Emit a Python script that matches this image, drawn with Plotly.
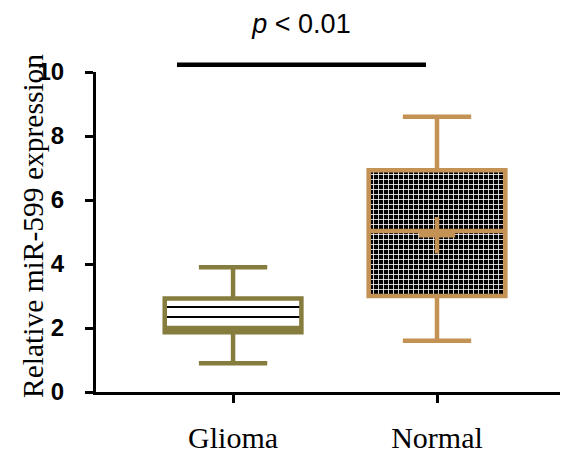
import plotly.graph_objects as go

categories = ["Glioma", "Normal"]
lower_fence = [0.9, 1.6]
q1 = [1.87, 3.0]
median = [2.0, 5.03]
q3 = [2.92, 6.93]
upper_fence = [3.9, 8.6]
normal_mean = 4.9
box_colors = ["#857C3E", "#C49255"]

y_ticks = [0, 2, 4, 6, 8, 10]
sig_x = [-0.275, 0.946]
sig_y = 10.23
sig_text_y = 11.42
sig_text = "<i>p</i> &lt; 0.01"

xpos = list(range(len(categories)))
BOXW = 0.67
serif = "Times New Roman, Liberation Serif, serif"
sans = "Arial, Liberation Sans, sans-serif"

fig = go.Figure()

# pattern fills of the boxes
fig.add_trace(go.Bar(
    x=xpos, y=[b - a for a, b in zip(q1, q3)], base=q1, width=BOXW,
    marker=dict(
        color="white", line=dict(width=0),
        pattern=dict(shape=["-", "+"], fgcolor=["black", "white"],
                     bgcolor=["white", "black"], size=[10, 5],
                     solidity=[0.2, 0.3], fgopacity=1),
    ),
    showlegend=False, hoverinfo="skip",
))

for i, c in enumerate(categories):
    fig.add_trace(go.Box(
        x=[xpos[i]], q1=[q1[i]], median=[median[i]], q3=[q3[i]],
        lowerfence=[lower_fence[i]], upperfence=[upper_fence[i]],
        width=BOXW, whiskerwidth=0.5, fillcolor="rgba(0,0,0,0)",
        line=dict(color=box_colors[i], width=4.5),
        boxpoints=False, showlegend=False, name=c,
    ))

fig.add_trace(go.Scatter(
    x=[xpos[1]], y=[normal_mean], mode="markers",
    marker=dict(symbol="cross-thin", size=26,
                line=dict(color=box_colors[1], width=4.5)),
    showlegend=False,
))

# significance bar and label on an invisible upper axis
fig.add_trace(go.Scatter(
    x=sig_x, y=[sig_y, sig_y], mode="lines", xaxis="x2", yaxis="y2",
    line=dict(color="black", width=4.5), showlegend=False,
))
fig.add_trace(go.Scatter(
    x=[sum(sig_x) / 2], y=[sig_text_y], mode="text", text=[sig_text],
    textfont=dict(family=sans, size=27, color="black"),
    xaxis="x2", yaxis="y2", showlegend=False,
))

XR = [-0.672, 1.603]
dom = 320 / 392
fig.update_layout(
    width=567, height=450,
    margin=dict(l=96, r=7, t=0, b=58),
    plot_bgcolor="white", paper_bgcolor="white",
    barmode="overlay", boxmode="overlay",
    xaxis=dict(range=XR, tickvals=xpos, ticktext=categories,
               showline=True, linecolor="black", linewidth=3,
               ticks="outside", ticklen=8, tickwidth=3, tickcolor="black",
               showgrid=False, zeroline=False, automargin=False,
               tickfont=dict(family=serif, size=30, color="black"),
               ticklabelstandoff=9),
    yaxis=dict(range=[0, 10], tickvals=y_ticks, domain=[0, dom],
               showline=True, linecolor="black", linewidth=3,
               ticks="outside", ticklen=8, tickwidth=3, tickcolor="black",
               showgrid=False, zeroline=False, automargin=False,
               tickfont=dict(family=sans, size=24, color="black", weight="bold"),
               ticklabelstandoff=16),
    xaxis2=dict(range=XR, overlaying="x", visible=False, anchor="y2"),
    yaxis2=dict(range=[10, 10 + 72 / 32], domain=[dom, 1], visible=False,
                anchor="x2"),
    annotations=[dict(
        text="Relative miR-599 expression", textangle=-90,
        xref="paper", yref="y domain", x=0, y=0.5, xshift=-63, yshift=6,
        xanchor="center", yanchor="middle", showarrow=False,
        font=dict(family=serif, size=29.5, color="black"),
    )],
)

fig.write_html("out.html", config={"displayModeBar": False},
               post_script="document.body.style.margin='0';")
